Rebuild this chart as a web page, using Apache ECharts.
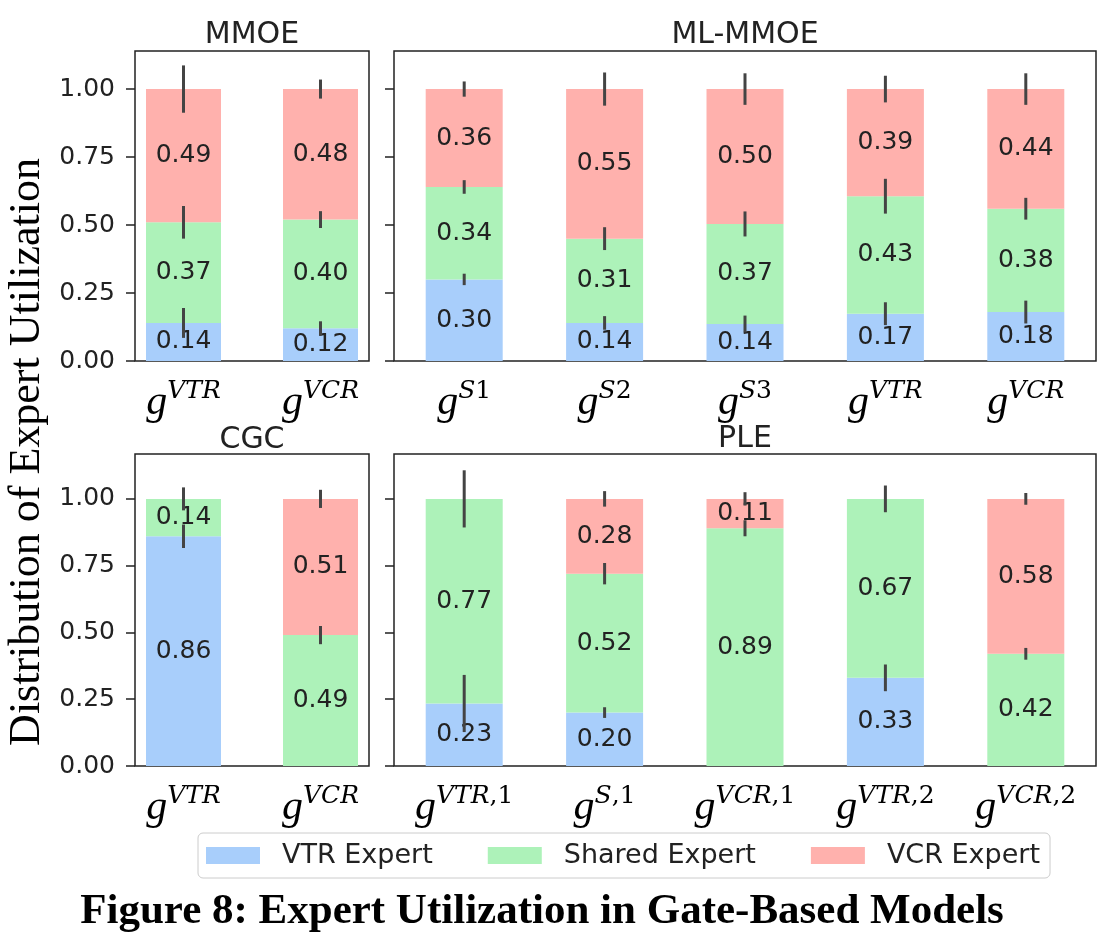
<!DOCTYPE html>
<html><head><meta charset="utf-8">
<script src="https://cdn.jsdelivr.net/npm/echarts@6/dist/echarts.min.js"></script>
<style>html,body{margin:0;padding:0;background:#fff}#c{width:1112px;height:942px}</style>
</head><body><div id="c"></div><script>
// ---------- data ----------
const seriesNames = ['VTR Expert', 'Shared Expert', 'VCR Expert'];
const yTicks = [0, 0.25, 0.5, 0.75, 1.0];

const mmoeCats = ['VTR', 'VCR'];
const mmoeVTR = [0.14, 0.12];
const mmoeShared = [0.37, 0.40];
const mmoeVCR = [0.49, 0.48];
const mmoeErrVTR = [0.055, 0.026];
const mmoeErrShared = [0.06, 0.031];
const mmoeErrVCR = [0.087, 0.035];

const mlCats = ['S1', 'S2', 'S3', 'VTR', 'VCR'];
const mlVTR = [0.30, 0.14, 0.136, 0.174, 0.18];
const mlShared = [0.34, 0.31, 0.368, 0.432, 0.38];
const mlVCR = [0.36, 0.55, 0.496, 0.394, 0.44];
const mlErrVTR = [0.021, 0.025, 0.031, 0.042, 0.042];
const mlErrShared = [0.025, 0.042, 0.046, 0.064, 0.04];
const mlErrVCR = [0.028, 0.061, 0.058, 0.049, 0.058];

const cgcCats = ['VTR', 'VCR'];
const cgcVTR = [0.86, 0];
const cgcShared = [0.14, 0.49];
const cgcVCR = [0, 0.51];
const cgcErrVTR = [0.044, 0];
const cgcErrShared = [0.043, 0.034];
const cgcErrVCR = [0, 0.034];

const pleCats = ['VTR,1', 'S,1', 'VCR,1', 'VTR,2', 'VCR,2'];
const pleVTR = [0.234, 0.20, 0, 0.33, 0];
const pleShared = [0.766, 0.52, 0.89, 0.67, 0.42];
const pleVCR = [0, 0.28, 0.11, 0, 0.58];
const pleErrVTR = [0.107, 0.02, 0, 0.05, 0];
const pleErrShared = [0.107, 0.04, 0.03, 0.05, 0.022];
const pleErrVCR = [0, 0.029, 0.025, 0, 0.022];

// ---------- layout / style ----------
const colors = ['#a8cefb', '#adf2b9', '#ffb1ad'];
// data grid = where the category bands live; frame = the drawn box
const panels = [
  {title: 'MMOE', cats: mmoeCats, vals: [mmoeVTR, mmoeShared, mmoeVCR], errs: [mmoeErrVTR, mmoeErrShared, mmoeErrVCR],
   data: {left: 115, top: 51, width: 274, height: 310}, frame: {left: 135, top: 51, width: 234, height: 310},
   yMax: 1.14, barWidth: 75, showY: true, titleY: 35},
  {title: 'ML-MMOE', cats: mlCats, vals: [mlVTR, mlShared, mlVCR], errs: [mlErrVTR, mlErrShared, mlErrVCR],
   data: {left: 394, top: 51, width: 702, height: 310}, frame: null,
   yMax: 1.14, barWidth: 77, showY: false, titleY: 35},
  {title: 'CGC', cats: cgcCats, vals: [cgcVTR, cgcShared, cgcVCR], errs: [cgcErrVTR, cgcErrShared, cgcErrVCR],
   data: {left: 115, top: 454, width: 274, height: 312}, frame: {left: 135, top: 454, width: 234, height: 312},
   yMax: 1.168, barWidth: 75, showY: true, titleY: 440},
  {title: 'PLE', cats: pleCats, vals: [pleVTR, pleShared, pleVCR], errs: [pleErrVTR, pleErrShared, pleErrVCR],
   data: {left: 394, top: 454, width: 702, height: 312}, frame: null,
   yMax: 1.168, barWidth: 77, showY: false, titleY: 439}
];

const rich = {
  g: {fontFamily: 'Liberation Serif', fontStyle: 'italic', fontSize: 42, lineHeight: 48, color: '#000'},
  s: {fontFamily: 'DejaVu Serif', fontStyle: 'italic', fontSize: 25, lineHeight: 20, verticalAlign: 'top', color: '#000'},
  d: {fontFamily: 'DejaVu Serif', fontSize: 25, lineHeight: 20, verticalAlign: 'top', color: '#000'}
};
function gateLabel(sup) {
  const parts = sup.match(/[A-Z]+|[^A-Z]+/g) || [];
  return '{g|g}' + parts.map(p => /[A-Z]/.test(p) ? '{s|' + p + '}' : '{d|' + p + '}').join('');
}
const frameStyle = {show: true, borderColor: '#222', borderWidth: 1.5, backgroundColor: 'transparent'};
function yAxisDef(gridIndex, yMax, showLabels) {
  return {
    type: 'value', gridIndex: gridIndex, min: 0, max: yMax,
    splitLine: {show: false}, axisLine: {show: false, onZero: false},
    axisTick: {show: true, length: 9, customValues: yTicks, lineStyle: {color: '#222', width: 1.5}},
    axisLabel: {show: showLabels, customValues: yTicks, formatter: v => v.toFixed(2), fontSize: 25, fontFamily: 'DejaVu Sans', color: '#222', margin: 20}
  };
}

const grids = [], xAxes = [], yAxes = [], series = [], graphics = [];
panels.forEach((p, i) => {
  const hasFrame = !!p.frame;
  grids.push(Object.assign({}, hasFrame ? {show: false} : frameStyle, p.data));
  xAxes.push({
    type: 'category', gridIndex: i, data: p.cats,
    axisLine: {show: false}, axisTick: {show: false}, splitLine: {show: false},
    axisLabel: {interval: 0, formatter: v => gateLabel(v), margin: 18, rich: rich}
  });
  const ya = yAxisDef(i, p.yMax, p.showY && !hasFrame);
  if (hasFrame) { ya.show = false; }
  yAxes.push(ya);
  p.vals.forEach((arr, k) => {
    series.push({
      type: 'bar', name: seriesNames[k], xAxisIndex: i, yAxisIndex: i, stack: 'st' + i, barWidth: p.barWidth,
      data: arr.slice(),
      itemStyle: {color: colors[k]},
      label: {show: true, position: 'inside', formatter: q => q.value > 0 ? q.value.toFixed(2) : '',
              fontSize: 25, fontFamily: 'DejaVu Sans', color: '#222'},
      emphasis: {disabled: true}
    });
  });
  const errData = [];
  p.cats.forEach((_, j) => {
    let c = 0;
    for (let k = 0; k < 3; k++) {
      c += p.vals[k][j];
      if (p.errs[k][j] > 0) errData.push([j, c, p.errs[k][j]]);
    }
  });
  series.push({
    type: 'custom', xAxisIndex: i, yAxisIndex: i, z: 5, data: errData, encode: {x: 0, y: 1},
    renderItem: (params, api) => {
      const x = api.value(0), c = api.value(1), e = api.value(2);
      const a = api.coord([x, c - e]), b = api.coord([x, c + e]);
      return {type: 'line', shape: {x1: a[0], y1: a[1], x2: b[0], y2: b[1]}, style: {stroke: '#444', lineWidth: 3}};
    }
  });
  const box = p.frame || p.data;
  graphics.push({type: 'text', x: box.left + box.width / 2, y: p.titleY,
    style: {text: p.title, font: '30px "DejaVu Sans"', fill: '#222', align: 'center', verticalAlign: 'middle'}});
});
// frame grids (with the visible y axes) for the two-bar panels
panels.forEach((p, i) => {
  if (!p.frame) return;
  const gi = grids.length;
  grids.push(Object.assign({}, frameStyle, p.frame));
  xAxes.push({type: 'value', gridIndex: gi, show: false, min: 0, max: 1});
  yAxes.push(yAxisDef(gi, p.yMax, p.showY));
});

graphics.push({type: 'text', x: 27, y: 452, rotation: Math.PI / 2,
  style: {text: 'Distribution of Expert Utilization', font: '44px "Liberation Serif"', fill: '#000', align: 'center', verticalAlign: 'middle'}});
graphics.push({type: 'text', x: 542, y: 912,
  style: {text: 'Figure 8: Expert Utilization in Gate-Based Models', font: 'bold 43px "Liberation Serif"', fill: '#000', align: 'center', verticalAlign: 'middle'}});

const chart = echarts.init(document.getElementById('c'), null, {renderer: 'canvas'});
chart.setOption({
  animation: false,
  backgroundColor: '#fff',
  grid: grids, xAxis: xAxes, yAxis: yAxes, series: series,
  legend: {
    data: seriesNames, left: 198, top: 833, icon: 'rect', itemWidth: 54, itemHeight: 17, itemGap: 55,
    padding: [9, 10, 9, 8], borderColor: '#ccc', borderWidth: 1, borderRadius: 5, backgroundColor: '#fff',
    selectedMode: false,
    textStyle: {fontSize: 27, fontFamily: 'DejaVu Sans', color: '#222', padding: [0, 0, 0, 17]}
  },
  graphic: graphics
});
</script></body></html>
